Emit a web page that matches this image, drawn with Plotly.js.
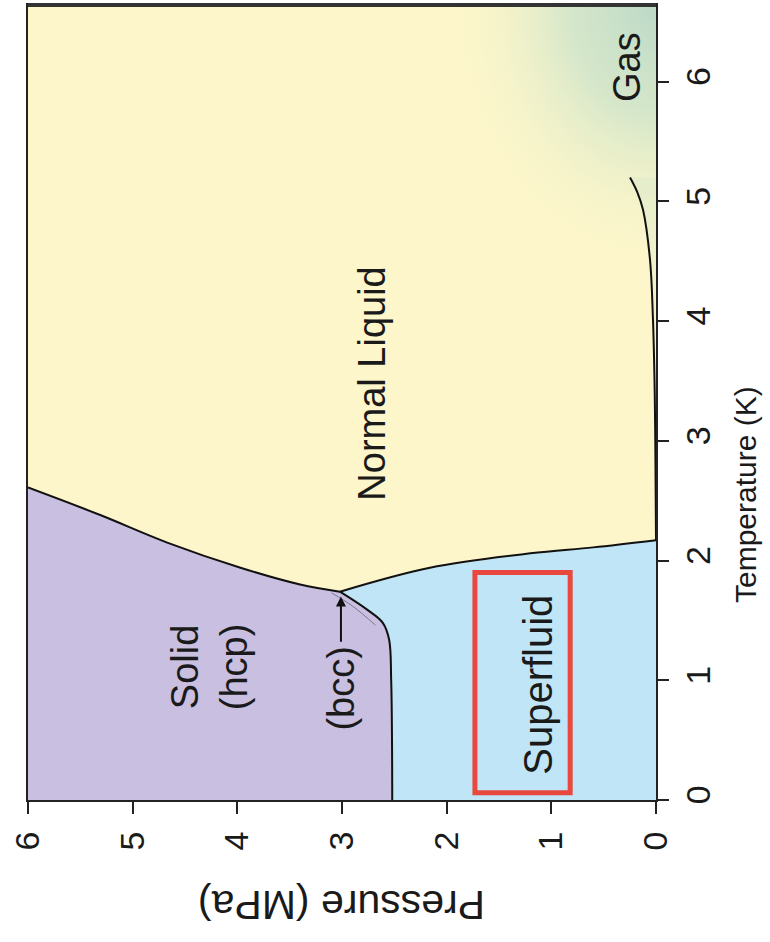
<!DOCTYPE html>
<html>
<head>
<meta charset="utf-8">
<script src="https://cdn.plot.ly/plotly-3.0.1.min.js"></script>
<style>html,body{margin:0;padding:0;background:#fff;}#chart{width:770px;height:942px;}</style>
</head>
<body>
<div id="chart"></div>
<script>
// Helium-4 phase diagram (pressure in MPa, temperature in K), figure rotated 90 degrees
var meltP = [6.0, 5.31, 4.67, 3.97, 3.40, 3.02];          // solid(hcp) / normal liquid
var meltT = [2.61, 2.38, 2.15, 1.94, 1.80, 1.74];
var hcpSfP = [3.02, 2.76, 2.61, 2.55, 2.53, 2.52];         // solid / superfluid
var hcpSfT = [1.74, 1.59, 1.48, 1.34, 1.00, 0.0];
var bccP = [3.10, 2.90, 2.68];                              // bcc sliver edge
var bccT = [1.73, 1.62, 1.46];
var lambdaP = [3.02, 2.16, 1.20, 0.60, 0.0];                // lambda line
var lambdaT = [1.74, 1.94, 2.06, 2.11, 2.17];
var vapP = [0.0, 0.005, 0.012, 0.03, 0.057, 0.124, 0.18, 0.248];  // liquid / gas
var vapT = [2.17, 2.8, 3.4, 4.04, 4.51, 4.93, 5.08, 5.20];
var gasShadeP = [2.1, -2.1, -2.1, 2.1, 2.1];                // soft gas shading zone
var gasShadeT = [4.3, 4.3, 9.0, 9.0, 4.3];

var pTicks = [0, 1, 2, 3, 4, 5, 6];
var tTicks = [0, 1, 2, 3, 4, 5, 6];

var regionLabels = ['Normal Liquid', 'Superfluid', 'Solid<br>(hcp)', '(bcc)', 'Gas'];
var regionP = [2.71, 1.13, 4.27, 3.01, 0.27];
var regionT = [3.48, 0.96, 1.11, 0.93, 6.12];
var regionSize = [38, 40, 38, 38, 38];

var font = 'Liberation Sans, Arial, Helvetica, sans-serif';
var PURPLE = 'rgb(201,191,224)';
var BLUE = 'rgb(191,229,246)';
var YELLOW = 'rgb(253,246,202)';

var solidP = meltP.concat(hcpSfP.slice(1), [6.0]);
var solidT = meltT.concat(hcpSfT.slice(1), [0]);
var sfP = hcpSfP.slice().reverse().concat(lambdaP.slice(1), [0]);
var sfT = hcpSfT.slice().reverse().concat(lambdaT.slice(1), [0]);
var gasP = vapP.concat([0]);
var gasT = vapT.concat([vapT[vapT.length - 1]]);

var traces = [
  {x: gasShadeP, y: gasShadeT, mode: 'none', fill: 'toself', hoverinfo: 'skip',
   fillgradient: {type: 'radial', colorscale: [[0, 'rgba(188,217,200,1)'], [0.4, 'rgba(204,227,202,0.8)'], [0.78, 'rgba(238,242,202,0.3)'], [1, 'rgba(253,246,202,0)']]}},
  {x: gasP, y: gasT, mode: 'none', fill: 'toself', hoverinfo: 'skip',
   fillgradient: {type: 'vertical', start: 2.17, stop: 5.2,
     colorscale: [[0, 'rgba(253,246,202,0)'], [0.6, 'rgba(222,233,205,0.35)'], [1, 'rgba(214,230,204,0.4)']]}},
  {x: solidP, y: solidT, mode: 'none', fill: 'toself', fillcolor: PURPLE, hoverinfo: 'skip'},
  {x: sfP, y: sfT, mode: 'none', fill: 'toself', fillcolor: BLUE, hoverinfo: 'skip'},
  {x: bccP, y: bccT, mode: 'lines', line: {color: 'rgba(60,60,80,0.55)', width: 1, shape: 'spline'}, hoverinfo: 'skip'},
  {x: meltP, y: meltT, mode: 'lines', line: {color: '#111', width: 2, shape: 'spline'}},
  {x: hcpSfP, y: hcpSfT, mode: 'lines', line: {color: '#111', width: 2, shape: 'spline'}},
  {x: lambdaP, y: lambdaT, mode: 'lines', line: {color: '#111', width: 2, shape: 'spline'}},
  {x: vapP, y: vapT, mode: 'lines', line: {color: '#111', width: 2, shape: 'spline'}}
];

var annotations = regionLabels.map(function (t, i) {
  return {x: regionP[i], y: regionT[i], xref: 'x', yref: 'y', text: t, showarrow: false,
          textangle: -90, font: {family: font, size: regionSize[i], color: '#1a1a1a'}};
});
annotations.push({x: 3.01, y: 1.70, ax: 3.01, ay: 1.31, xref: 'x', yref: 'y', axref: 'x', ayref: 'y',
  text: '', showarrow: true, arrowhead: 2, arrowsize: 1, arrowwidth: 2, arrowcolor: '#111', standoff: 0});
annotations.push({xref: 'paper', yref: 'paper', x: 1, xanchor: 'center', xshift: 89,
  y: (800 - 495) / 795, yanchor: 'middle', text: 'Temperature (K)', showarrow: false,
  textangle: -90, font: {family: font, size: 30, color: '#1a1a1a'}});
annotations.push({xref: 'paper', yref: 'paper', x: 0.5, xanchor: 'center', y: 0, yshift: -105,
  yanchor: 'middle', text: 'Pressure (MPa)', showarrow: false, textangle: 180,
  font: {family: font, size: 41, color: '#1a1a1a'}});

var layout = {
  width: 770, height: 942,
  margin: {l: 28, r: 114, t: 5, b: 142},
  paper_bgcolor: '#ffffff', plot_bgcolor: YELLOW,
  showlegend: false,
  xaxis: {range: [6, 0], tickvals: pTicks, tickangle: -90, ticks: 'outside', ticklen: 12, tickwidth: 2,
          tickcolor: '#222', showline: true, linecolor: '#222', linewidth: 2, mirror: true,
          showgrid: false, zeroline: false, ticklabelstandoff: 4,
          tickfont: {family: font, size: 34, color: '#1a1a1a'}, automargin: false, fixedrange: true},
  yaxis: {range: [0, 6.64], side: 'right', tickvals: tTicks, tickangle: -90, ticks: 'outside', ticklen: 11,
          tickwidth: 2, tickcolor: '#222', showline: true, linecolor: '#222', linewidth: 2, mirror: true,
          showgrid: false, zeroline: false, ticklabelstandoff: 0,
          tickfont: {family: font, size: 34, color: '#1a1a1a'}, automargin: false, fixedrange: true},
  shapes: [
    {type: 'rect', xref: 'x', yref: 'y', x0: 1.73, x1: 0.82, y0: 0.06, y1: 1.90,
     line: {color: 'rgb(232,72,62)', width: 5}, fillcolor: 'rgba(0,0,0,0)'},
    {type: 'line', xref: 'paper', yref: 'paper', x0: 0, x1: 1, y0: 1, y1: 1,
     line: {color: '#333', width: 4}}
  ],
  annotations: annotations
};

Plotly.newPlot('chart', traces, layout, {displayModeBar: false, staticPlot: true});
</script>
</body>
</html>
